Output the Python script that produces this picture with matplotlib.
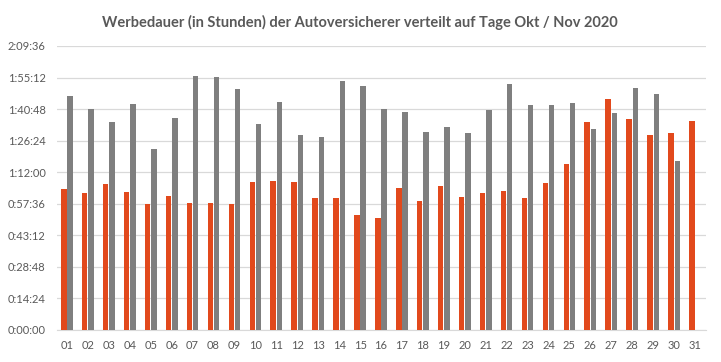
import numpy as np
import matplotlib
matplotlib.use('Agg')
from matplotlib import pyplot
from matplotlib.ticker import FuncFormatter, MultipleLocator


#(0) Data (minutes of advertising per day)
DAYS = ['%02d' % d for d in range(1, 32)]
OKT  = [64.5, 62.6, 66.7, 63.1, 57.6, 61.3, 58.1, 58.1, 57.6, 67.7,
        68.1, 67.7, 60.4, 60.4, 52.6, 51.2, 65.0, 59.0, 65.9, 60.8,
        62.6, 63.6, 60.4, 67.2, 75.9, 94.7, 105.3, 96.1, 89.2, 89.7, 95.6]
NOV  = [106.7, 100.7, 94.7, 103.0, 82.8, 96.6, 115.8, 115.4, 109.9, 93.8,
        103.9, 89.2, 88.3, 113.5, 111.2, 100.7, 99.3, 90.2, 92.5, 89.7,
        100.3, 112.2, 102.5, 102.5, 103.5, 91.6, 98.8, 110.3, 107.6, 77.3]

ORANGE = '#E2491C'
GREY   = '#7F7F7F'
TXT    = '#595959'
FONT   = 'Lato'


def hms(v, pos):
	s = int(round(v * 60))
	return '%d:%02d:%02d' % (s // 3600, (s % 3600) // 60, s % 60)


#(1) Plot
pyplot.close('all')
fig = pyplot.figure(figsize=(7.21, 3.62), dpi=100)
ax  = fig.add_axes([56.5/721, 1 - 330/362, 649/721, 284/362])

x  = np.arange(len(DAYS))
w  = 0.26
ax.bar(x[:len(OKT)] - w/2 - 0.02, OKT, w, color=ORANGE, zorder=3)
ax.bar(x[:len(NOV)] + w/2 + 0.02, NOV, w, color=GREY, zorder=3)

ax.set_xlim(-0.5, len(DAYS) - 0.5)
ax.set_ylim(0, 129.6)
ax.yaxis.set_major_locator(MultipleLocator(14.4))
ax.yaxis.set_major_formatter(FuncFormatter(hms))
ax.set_xticks(x)
ax.set_xticklabels(DAYS)
ax.grid(axis='y', color='#D9D9D9', lw=0.9, zorder=0)
for s in ['top', 'right', 'left']:
	ax.spines[s].set_visible(False)
ax.spines['bottom'].set_color('#D9D9D9')
ax.tick_params(length=0, colors=TXT, labelsize=8)
ax.tick_params(axis='x', pad=7)
ax.tick_params(axis='y', pad=35)
[t.set_fontname(FONT) for t in ax.get_xticklabels() + ax.get_yticklabels()]
[t.set_horizontalalignment('left') for t in ax.get_yticklabels()]

fig.text(360/721, 1 - 22/362, 'Werbedauer (in Stunden) der Autoversicherer verteilt auf Tage Okt / Nov 2020',
	ha='center', va='center', color=TXT, fontsize=10.5, fontweight='bold', fontname=FONT)

pyplot.savefig('out.png', dpi=100)
